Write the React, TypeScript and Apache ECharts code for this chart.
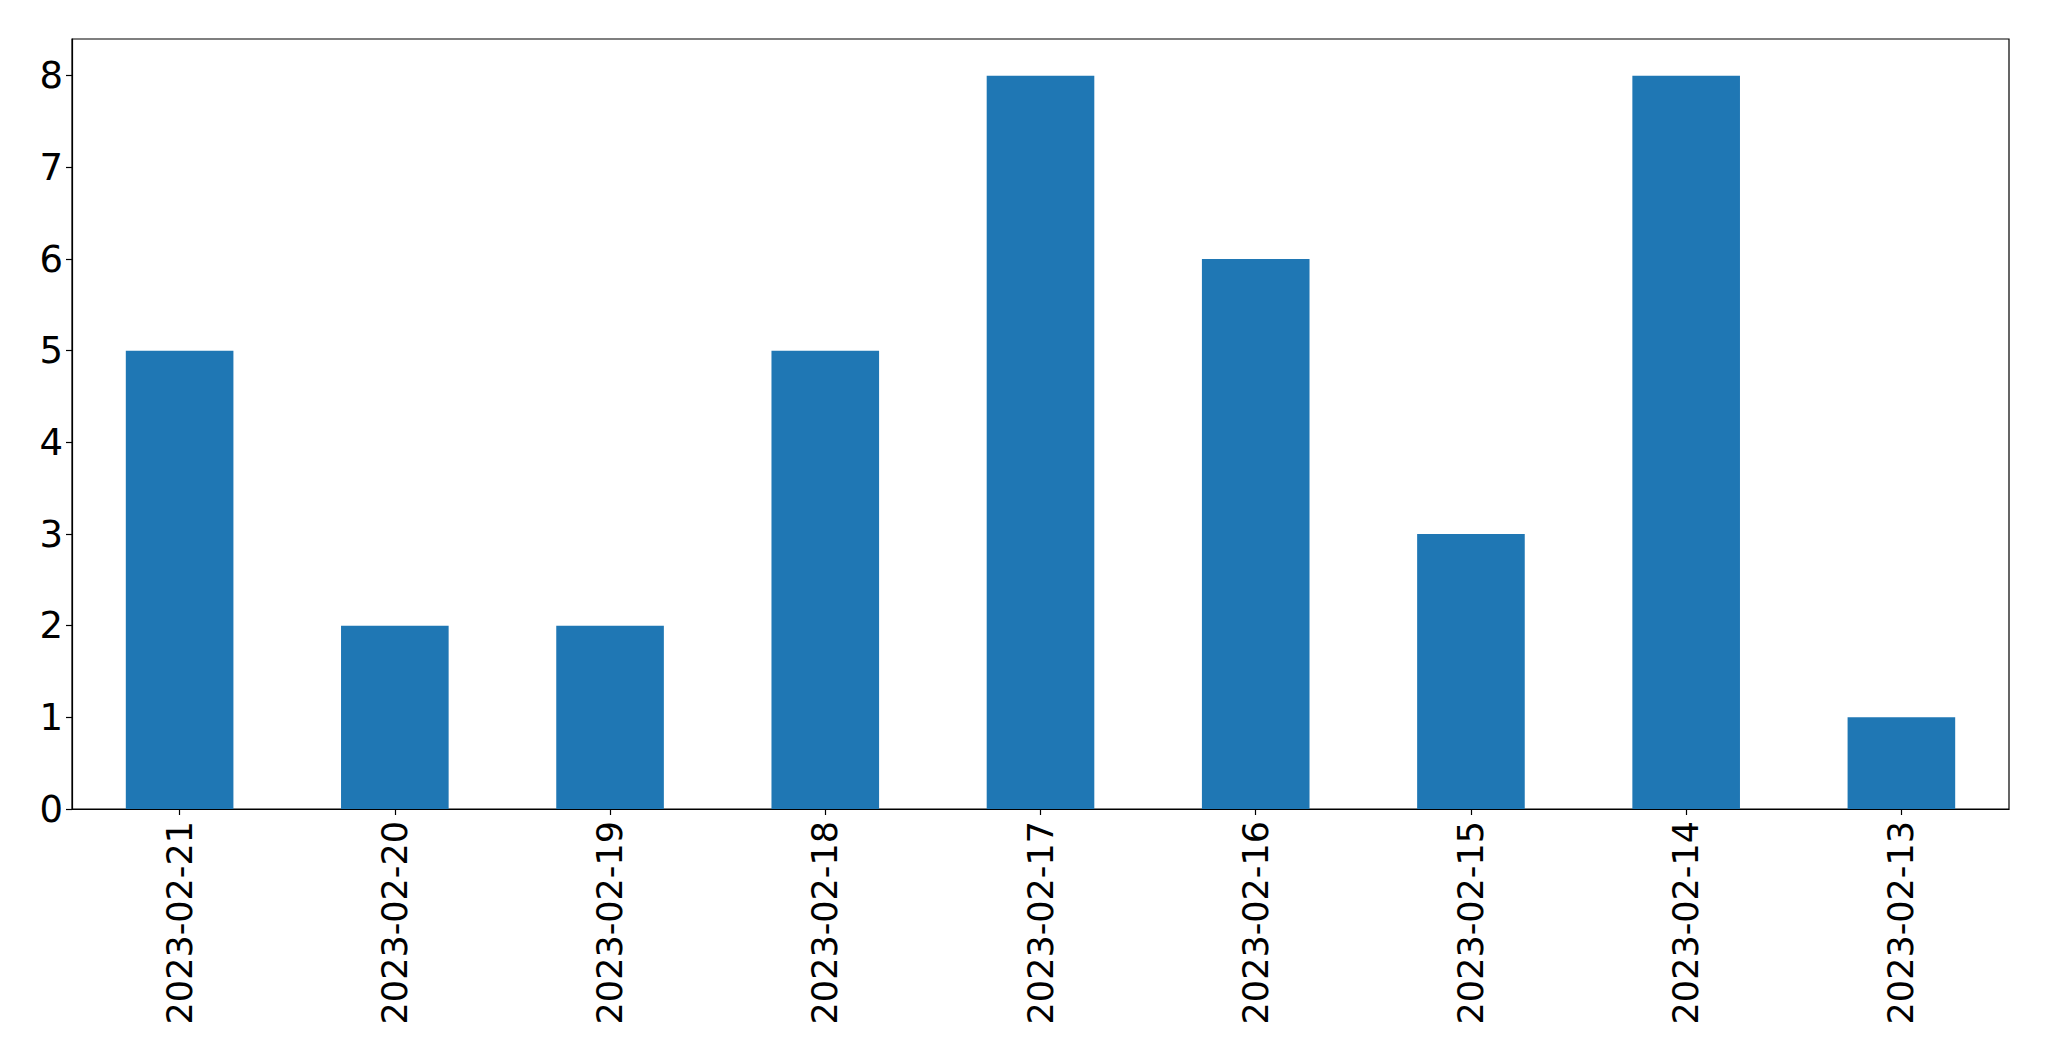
import React, { useEffect, useRef } from "react";
import * as echarts from "echarts";

const categories = [
  "2023-02-21",
  "2023-02-20",
  "2023-02-19",
  "2023-02-18",
  "2023-02-17",
  "2023-02-16",
  "2023-02-15",
  "2023-02-14",
  "2023-02-13",
];
const counts = [5, 2, 2, 5, 8, 6, 3, 8, 1];
const yTicks = [0, 1, 2, 3, 4, 5, 6, 7, 8];

export default function App() {
  const ref = useRef<HTMLDivElement>(null);
  useEffect(() => {
    if (!ref.current) return;
    const chart = echarts.init(ref.current, null, { renderer: "svg" });
    const font = "DejaVu Sans";
    chart.setOption({
      animation: false,
      backgroundColor: "#ffffff",
      grid: {
        left: 72,
        top: 39,
        right: 40,
        bottom: 252,
        show: true,
        borderColor: "#000000",
        borderWidth: 1.2,
        containLabel: false,
      },
      xAxis: {
        type: "category",
        data: categories,
        boundaryGap: true,
        axisLine: { show: true, lineStyle: { color: "#000", width: 1.2 } },
        axisTick: { show: true, alignWithLabel: true, length: 6, lineStyle: { color: "#000", width: 1.2 } },
        axisLabel: {
          rotate: 90,
          margin: 12,
          fontFamily: font,
          fontSize: 35,
          color: "#000",
          interval: 0,
        },
        splitLine: { show: false },
      },
      yAxis: {
        type: "value",
        min: 0,
        max: 8.4,
        interval: 1,
        axisLine: { show: true, lineStyle: { color: "#000", width: 1.2 } },
        axisTick: { show: true, length: 6, lineStyle: { color: "#000", width: 1.2 }, customValues: yTicks },
        axisLabel: {
          margin: 9,
          fontFamily: font,
          fontSize: 37,
          color: "#000",
          customValues: yTicks,
        },
        splitLine: { show: false },
      },
      series: [
        {
          type: "bar",
          data: counts,
          barWidth: "50%",
          itemStyle: { color: "#1f77b4" },
        },
      ],
    });
    return () => chart.dispose();
  }, []);
  return (
    <div
      ref={ref}
      style={{ position: "fixed", left: 0, top: 0, width: 2049, height: 1061, background: "#fff" }}
    />
  );
}
